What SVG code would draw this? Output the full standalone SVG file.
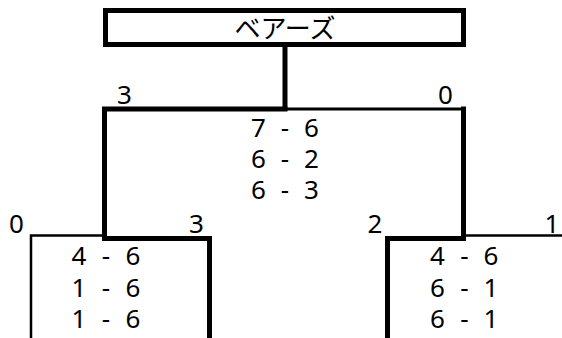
<svg xmlns="http://www.w3.org/2000/svg" width="562" height="338" viewBox="0 0 562 338">
<style>
text{font-family:"Noto Sans","Open Sans","Noto Sans CJK JP",sans-serif;font-size:26px;fill:#000;text-anchor:middle}
.thick{stroke:#000;stroke-width:5;fill:none;stroke-linecap:square}
.mid{stroke:#000;stroke-width:3;fill:none}
.thin{stroke:#000;stroke-width:2.5;fill:none}
</style>
<rect width="562" height="338" fill="#fff"/>
<g id="champion">
<rect x="105.5" y="10.5" width="358" height="34" fill="#fff" stroke="#000" stroke-width="5"/>
<text x="285" y="38" style="font-family:'Noto Sans CJK JP',sans-serif;font-size:26px">ベアーズ</text>
</g>
<g id="connectors">
<line class="thick" x1="285" y1="47" x2="285" y2="108"/>
<polyline class="thick" points="104.5,238.5 104.5,109 285,109"/>
<line class="mid" x1="285" y1="109" x2="463.5" y2="109"/>
<line class="thick" x1="463.5" y1="109" x2="463.5" y2="238.5"/>
<polyline class="thin" points="31,340 31,235.5 104.5,235.5"/>
<polyline class="thick" points="104.5,238.5 209.5,238.5 209.5,340"/>
<polyline class="thick" points="387.5,340 387.5,238.5 463.5,238.5"/>
<line class="thin" x1="463.5" y1="235.5" x2="562" y2="235.5"/>
</g>
<g id="final">
<text x="124.5" y="104">3</text>
<text x="445.5" y="104">0</text>
<text x="258.5" y="137">7</text><text x="285" y="137">-</text><text x="311.5" y="137">6</text>
<text x="258.5" y="168">6</text><text x="285" y="168">-</text><text x="311.5" y="168">2</text>
<text x="258.5" y="199">6</text><text x="285" y="199">-</text><text x="311.5" y="199">3</text>
</g>
<g id="semi-left">
<text x="16.5" y="233">0</text>
<text x="196.5" y="233">3</text>
<text x="79" y="265">4</text><text x="106" y="265">-</text><text x="133" y="265">6</text>
<text x="79" y="297">1</text><text x="106" y="297">-</text><text x="133" y="297">6</text>
<text x="79" y="328">1</text><text x="106" y="328">-</text><text x="133" y="328">6</text>
</g>
<g id="semi-right">
<text x="375" y="233">2</text>
<text x="552" y="233">1</text>
<text x="437.5" y="265">4</text><text x="464.5" y="265">-</text><text x="491" y="265">6</text>
<text x="437.5" y="297">6</text><text x="464.5" y="297">-</text><text x="491" y="297">1</text>
<text x="437.5" y="328">6</text><text x="464.5" y="328">-</text><text x="491" y="328">1</text>
</g>
</svg>
